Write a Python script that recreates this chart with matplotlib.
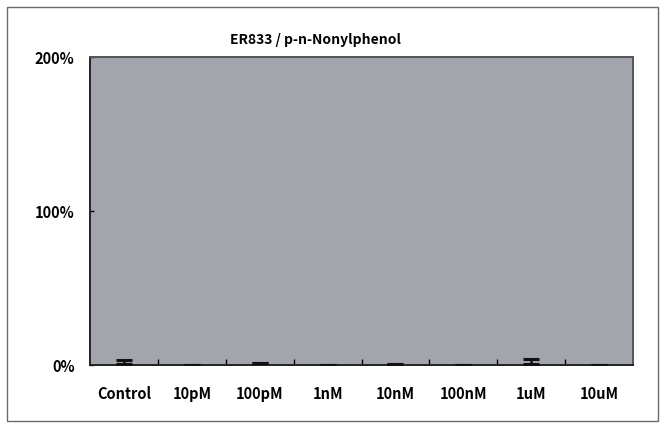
import numpy as np
import matplotlib
matplotlib.use("Agg")
import matplotlib.pyplot as plt
from matplotlib.patches import Rectangle

# ── data ─────────────────────────────────────────────────────────────────────
categories = ["Control", "10pM", "100pM", "1nM", "10nM", "100nM", "1uM", "10uM"]
values = [0.8, 0.0, 1.0, 0.0, 0.6, 0.0, 0.8, 0.0]      # percent
errors = [2.4, 0.0, 0.3, 0.0, 0.2, 0.0, 3.0, 0.0]
yticks = [0, 100, 200]
ytick_labels = ["0%", "100%", "200%"]
title = "ER833 / p-n-Nonylphenol"

plt.rcParams["font.family"] = ["Noto Sans CJK JP", "DejaVu Sans"]

fig = plt.figure(figsize=(6.64, 4.30), dpi=100)
fig.patch.set_facecolor("white")

# outer chart frame
fig.patches.append(Rectangle((7 / 664, 1 - 421 / 430), 651 / 664, 414 / 430,
                             transform=fig.transFigure, fill=False,
                             edgecolor="#6a6a6a", linewidth=1.0))

ax = fig.add_axes([90 / 664, 1 - 365 / 430, 543 / 664, 308 / 430])
ax.set_facecolor("#a3a5ad")

x = np.arange(len(categories))
ax.bar(x, values, width=0.18, color="#1a1a2a", zorder=3)
ax.errorbar(x, values, yerr=[np.zeros(len(errors)), errors], fmt="none",
            ecolor="#111111", elinewidth=1.8, capsize=6, capthick=2.2, zorder=4)

ax.set_xlim(-0.5, len(categories) - 0.5)
ax.set_ylim(0, 200)
ax.set_yticks(yticks)
ax.set_yticklabels(ytick_labels, fontsize=10.5, fontweight="bold")
ax.set_xticks(x)
ax.set_xticklabels(categories, fontsize=10.5, fontweight="bold")
ax.set_xticks(np.arange(len(categories) - 1) + 0.5, minor=True)
ax.tick_params(axis="x", which="major", length=0, pad=15)
ax.tick_params(axis="x", which="minor", direction="in", length=4, width=1.0)
ax.tick_params(axis="y", direction="in", length=3, width=1.0, pad=11)

for side in ["left", "bottom", "top", "right"]:
    ax.spines[side].set_color("#222222")
    ax.spines[side].set_linewidth(1.4)
ax.spines["top"].set_color("#555555")
ax.spines["right"].set_color("#555555")

fig.text(316 / 664, 1 - 40 / 430, title, ha="center", va="center",
         fontsize=10, fontweight="bold")

fig.savefig("out.png", dpi=100)
